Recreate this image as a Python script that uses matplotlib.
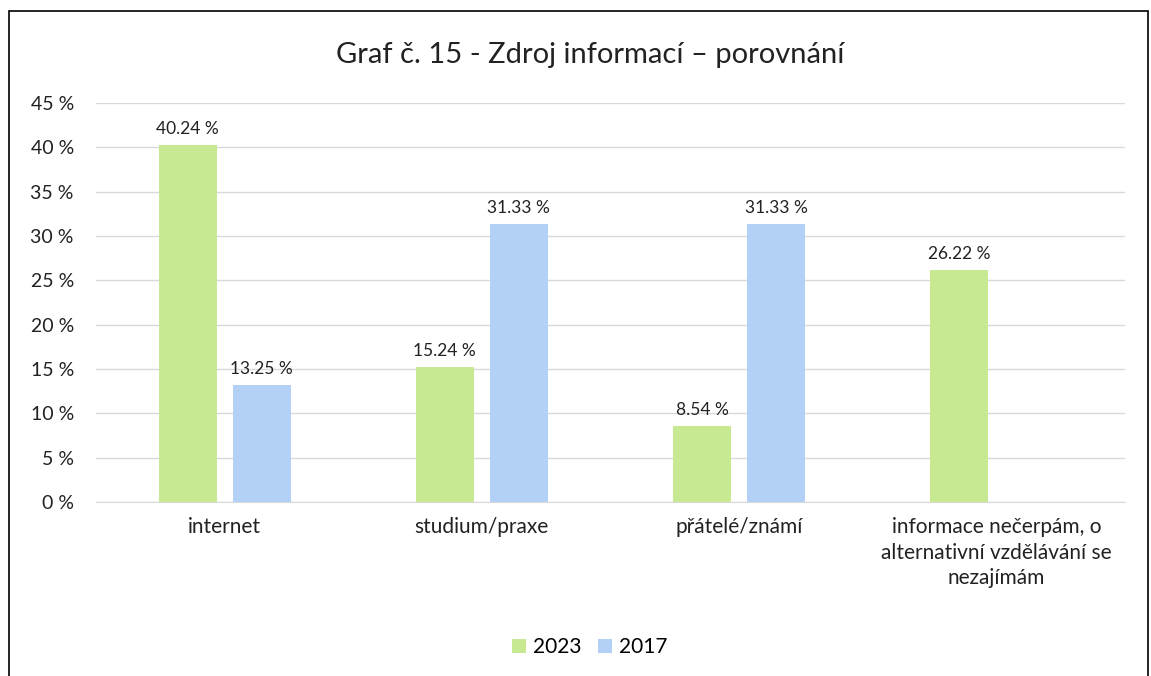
import matplotlib.pyplot as plt
import numpy as np
from matplotlib.patches import Rectangle

categories = ["internet", "studium/praxe", "přátelé/známí",
              "informace nečerpám, o\nalternativní vzdělávání se\nnezajímám"]
values_2023 = [40.24, 15.24, 8.54, 26.22]
values_2017 = [13.25, 31.33, 31.33, None]
series_names = ["2023", "2017"]

green = "#C6E992"
blue = "#B3D1F7"

plt.rcParams['font.family'] = ['Lato', 'DejaVu Sans']

fig = plt.figure(figsize=(11.51, 6.76), dpi=100)
ax = fig.add_axes([96 / 1151, 1 - 502 / 676, (1125 - 96) / 1151, (502 - 103) / 676])

x = np.arange(len(categories))
w = 0.226
off = 0.144

v17 = [v if v is not None else 0 for v in values_2017]
b1 = ax.bar(x - off, values_2023, w, color=green, label=series_names[0], zorder=3)
b2 = ax.bar(x + off, v17, w, color=blue, label=series_names[1], zorder=3)

for i, v in enumerate(values_2023):
    ax.text(x[i] - off, v + 0.9, f"{v:.2f} %", ha="center", va="bottom", fontsize=12.5, color="#222222")
for i, v in enumerate(values_2017):
    if v is not None:
        ax.text(x[i] + off, v + 0.9, f"{v:.2f} %", ha="center", va="bottom", fontsize=12.5, color="#222222")

ax.set_xlim(-0.5, len(categories) - 0.5)
ax.set_ylim(0, 45)
ax.set_yticks(np.arange(0, 46, 5))
ax.set_yticklabels([f"{t} %" for t in range(0, 46, 5)], fontsize=14)
ax.set_xticks(x)
ax.set_xticklabels(categories, fontsize=15, linespacing=1.35)
ax.tick_params(length=0, colors="#222222")
ax.tick_params(axis="x", pad=11)
ax.tick_params(axis="y", pad=16)
ax.grid(axis="y", color="#D9D9D9", linewidth=1, zorder=0)
for s in ["top", "right", "left"]:
    ax.spines[s].set_visible(False)
ax.spines["bottom"].set_color("#D9D9D9")

fig.text(590 / 1151, 1 - 55 / 676, "Graf č. 15 - Zdroj informací – porovnání",
         ha="center", va="center", fontsize=21, color="#222222")

fig.legend(handles=[b1, b2], labels=series_names, loc="center",
           bbox_to_anchor=(590 / 1151, 1 - 647 / 676), ncol=2, frameon=False,
           fontsize=15, handlelength=0.65, handleheight=0.65, handletextpad=0.35,
           columnspacing=0.8)

fig.add_artist(Rectangle((9 / 1151, -0.02), (1148 - 9) / 1151, 1 + 0.02 - 11 / 676,
                         transform=fig.transFigure, fill=False, edgecolor="black", linewidth=1.2))

fig.savefig("out.png", dpi=100)
